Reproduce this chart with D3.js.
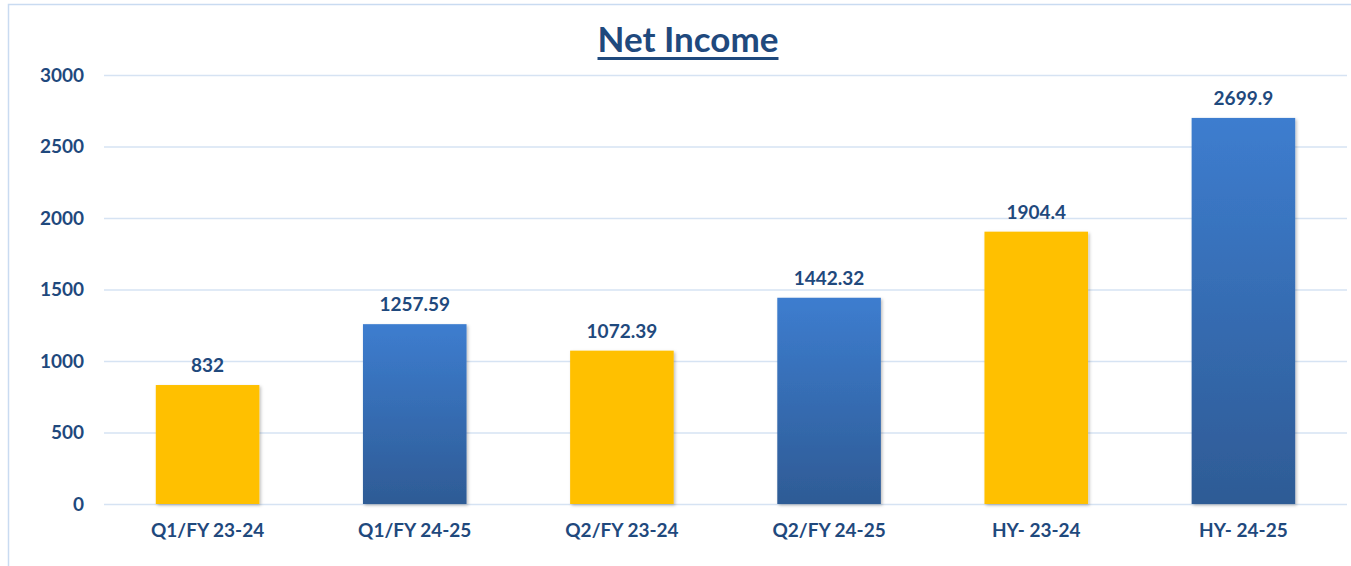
<!DOCTYPE html>
<html>
<head>
<meta charset="utf-8">
<script src="https://cdn.jsdelivr.net/npm/d3@7"></script>
<style>
  body { margin: 0; background: #fff; }
  svg { display: block; font-family: Lato, "Open Sans", sans-serif; }
</style>
</head>
<body>
<svg class="chart" width="1351" height="566"></svg>
<script>
const categories = ['Q1/FY 23-24', 'Q1/FY 24-25', 'Q2/FY 23-24', 'Q2/FY 24-25', 'HY- 23-24', 'HY- 24-25'];
const values = [832, 1257.59, 1072.39, 1442.32, 1904.4, 2699.9];
const valueLabels = ['832', '1257.59', '1072.39', '1442.32', '1904.4', '2699.9'];
const isCurrent = [false, true, false, true, false, true];
const yTicks = [0, 500, 1000, 1500, 2000, 2500, 3000];

const textColor = '#1f497d';
const svg = d3.select('svg.chart');

// outer chart frame (runs off the right and bottom edge)
svg.append('rect')
  .attr('x', 8.5).attr('y', 4.5)
  .attr('width', 1400).attr('height', 600)
  .attr('fill', 'none')
  .attr('stroke', '#c9dbf1')
  .attr('stroke-width', 1.5);

const defs = svg.append('defs');
const grad = defs.append('linearGradient')
  .attr('id', 'blueGrad')
  .attr('x1', 0).attr('y1', 0).attr('x2', 0).attr('y2', 1);
grad.append('stop').attr('offset', '0%').attr('stop-color', '#3d7dcf');
grad.append('stop').attr('offset', '100%').attr('stop-color', '#2e5b95');

const shadow = defs.append('filter').attr('id', 'shadow')
  .attr('x', '-10%').attr('y', '-10%').attr('width', '130%').attr('height', '130%');
shadow.append('feDropShadow')
  .attr('dx', 1.5).attr('dy', 1.5).attr('stdDeviation', 1.5)
  .attr('flood-color', '#000').attr('flood-opacity', 0.25);

const x = d3.scaleBand()
  .domain(categories)
  .range([104, 1347])
  .paddingInner(0.5)
  .paddingOuter(0.25);

const y = d3.scaleLinear()
  .domain([0, 3000])
  .range([504, 75]);

// gridlines
svg.append('g')
  .selectAll('line')
  .data(yTicks)
  .join('line')
  .attr('x1', 104).attr('x2', 1347)
  .attr('y1', d => y(d) + 0.5).attr('y2', d => y(d) + 0.5)
  .attr('stroke', '#d6e3f3')
  .attr('stroke-width', 1.5);

// y axis labels
const yAxis = svg.append('g')
  .attr('transform', 'translate(84,0)')
  .call(d3.axisLeft(y).tickValues(yTicks).tickFormat(d3.format('d')).tickSize(0).tickPadding(0));
yAxis.select('.domain').remove();
yAxis.selectAll('text')
  .attr('fill', textColor)
  .style('font-family', 'Lato, sans-serif')
  .style('font-size', '19px')
  .style('font-weight', 'bold');

// bars
svg.append('g')
  .selectAll('rect')
  .data(values)
  .join('rect')
  .attr('x', (d, i) => x(categories[i]))
  .attr('y', d => y(d))
  .attr('width', x.bandwidth())
  .attr('height', d => y(0) - y(d))
  .attr('fill', (d, i) => isCurrent[i] ? 'url(#blueGrad)' : '#ffc000')
  .attr('filter', 'url(#shadow)');

// value labels
svg.append('g')
  .selectAll('text')
  .data(values)
  .join('text')
  .attr('x', (d, i) => x(categories[i]) + x.bandwidth() / 2)
  .attr('y', d => y(d) - 13)
  .attr('text-anchor', 'middle')
  .attr('fill', textColor)
  .style('font-size', '19px')
  .style('font-weight', 'bold')
  .text((d, i) => valueLabels[i]);

// category labels
const xAxis = svg.append('g')
  .attr('transform', 'translate(0,504)')
  .call(d3.axisBottom(x).tickSize(0).tickPadding(0));
xAxis.select('.domain').remove();
xAxis.selectAll('text')
  .attr('y', 33)
  .attr('dy', 0)
  .attr('fill', textColor)
  .style('font-family', 'Lato, sans-serif')
  .style('font-size', '19px')
  .style('font-weight', 'bold');

// title
const title = svg.append('text')
  .attr('x', 688)
  .attr('y', 52)
  .attr('text-anchor', 'middle')
  .attr('fill', textColor)
  .style('font-size', '35px')
  .style('font-weight', 'bold')
  .text('Net Income');
const tb = title.node().getBBox();
svg.append('line')
  .attr('x1', tb.x).attr('x2', tb.x + tb.width)
  .attr('y1', 58.5).attr('y2', 58.5)
  .attr('stroke', textColor)
  .attr('stroke-width', 3);
</script>
</body>
</html>
